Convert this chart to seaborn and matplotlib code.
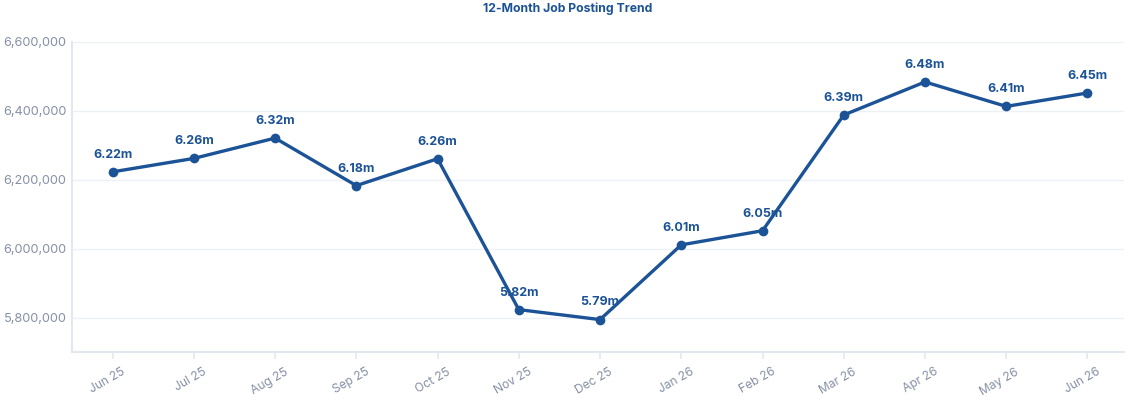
import pandas as pd
import seaborn as sns
import numpy as np
from matplotlib import pyplot as plt
from matplotlib.ticker import FuncFormatter

months = ['Jun 25', 'Jul 25', 'Aug 25', 'Sep 25', 'Oct 25', 'Nov 25', 'Dec 25',
          'Jan 26', 'Feb 26', 'Mar 26', 'Apr 26', 'May 26', 'Jun 26']
postings = [6223000, 6262000, 6321000, 6183000, 6261000, 5823000, 5794000,
            6011000, 6052000, 6388000, 6484000, 6413000, 6452000]
point_labels = ['6.22m', '6.26m', '6.32m', '6.18m', '6.26m', '5.82m', '5.79m',
                '6.01m', '6.05m', '6.39m', '6.48m', '6.41m', '6.45m']
yticks = [5800000, 6000000, 6200000, 6400000, 6600000]

blue = '#1b5396'
grey = '#8690a6'
light = '#e3e8f0'

sns.set_style('white')
plt.rcParams['font.family'] = ['Inter', 'DejaVu Sans']

df = pd.DataFrame({'Month': months, 'Postings': postings})
df['pos'] = range(len(df))

fig = plt.figure(figsize=(11.3, 4.03), dpi=100)
ax = fig.add_axes([0.0637, 0.1266, 0.931, 0.7692])

sns.lineplot(x='pos', y='Postings', data=df, ax=ax, color=blue, linewidth=2.4,
             marker='o', markersize=7, markeredgewidth=0, zorder=3)

for i, row in df.iterrows():
    ax.annotate(point_labels[i], (row['pos'], row['Postings']), xytext=(0, 8),
                textcoords='offset points', ha='center', va='bottom',
                fontsize=9, fontweight='bold', color=blue, zorder=4)

ax.set_xlim(-0.5, 12.45)
ax.set_ylim(5700000, 6600000)
ax.set_xticks(df['pos'])
ax.set_xticklabels([])
# month labels drawn as rotated text, shifted right of the tick like the original
for i, m in enumerate(months):
    ax.annotate(m, (df['pos'][i], 0), xycoords=('data', 'axes fraction'),
                xytext=(6.5, -10), textcoords='offset points', rotation=30,
                ha='right', va='top', rotation_mode='anchor',
                fontsize=8.7, color=grey, annotation_clip=False)
ax.set_yticks(yticks)
ax.yaxis.set_major_formatter(FuncFormatter(lambda v, p: f'{int(v):,}'))
ax.grid(axis='y', color='#edf0f5', linewidth=1)
ax.set_axisbelow(True)
ax.set_xlabel('')
ax.set_ylabel('')
ax.tick_params(axis='x', length=5, width=1.2, color=light, bottom=True)
ax.tick_params(axis='y', colors=grey, labelsize=9.2, length=0, pad=4)
for s in ['top', 'right']:
    ax.spines[s].set_visible(False)
for s in ['left', 'bottom']:
    ax.spines[s].set_color(light)
    ax.spines[s].set_linewidth(1.5)

fig.text(0.502, 0.978, '12-Month Job Posting Trend', ha='center', va='center',
         fontsize=8.8, fontweight='bold', color=blue)

fig.savefig('out.png', dpi=100)
